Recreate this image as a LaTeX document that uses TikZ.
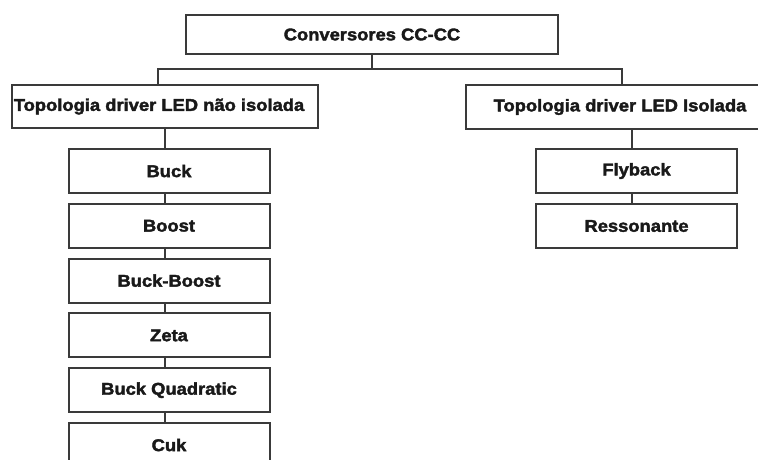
\documentclass[tikz,border=0pt]{standalone}
\usepackage{fontspec}
\newfontfamily\heavy[FakeBold=2.2,FakeStretch=1.08]{Liberation Sans}
\definecolor{linegray}{HTML}{3A3A3A}
\begin{document}
\begin{tikzpicture}[x=1pt,y=-1pt,
  box/.style={draw=linegray,line width=2pt,fill=white,inner sep=0pt,
    font=\heavy\bfseries\fontsize{17}{20}\selectfont,text=black!90},
  conn/.style={draw=linegray,line width=2pt}]
\useasboundingbox (0,0) rectangle (758,459);
\clip (0,0) rectangle (758,459);
\fill[white] (0,0) rectangle (758,459);
\node[box,minimum width=372pt,minimum height=39pt] (top) at (372,34.5) {Conversores CC-CC};
\node[box,minimum width=306pt,minimum height=43pt] (L) at (165,106.5) {};
\node[font=\heavy\bfseries\fontsize{17}{20}\selectfont,text=black!90] (Lt) at (159,106.5) {Topologia driver LED não isolada};
\node[box,minimum width=308pt,minimum height=44pt] (R) at (620,107) {Topologia driver LED Isolada};
\coordinate (bus) at (372,69);
\draw[conn] (top.south) -- (bus);
\draw[conn] ([xshift=-7pt]L.north) |- (bus);
\draw[conn] ([xshift=2pt]R.north) |- (bus);
\foreach \n/\t/\y in {c1/Buck/171, c2/Boost/225.8, c3/Buck-Boost/280.6, c4/Zeta/335.4, c5/Buck Quadratic/390.2, c6/Cuk/445}
  \node[box,minimum width=201pt,minimum height=44pt] (\n) at (169,\y) {\t};
\foreach \a/\b in {c1/c2,c2/c3,c3/c4,c4/c5,c5/c6}
  \draw[conn] (\a.south -| L.south) -- (\b.north -| L.south);
\draw[conn] (L.south) -- (L.south |- c1.north);
\node[box,minimum width=201pt,minimum height=44pt] (f1) at (636.5,171) {Flyback};
\node[box,minimum width=201pt,minimum height=44pt] (f2) at (636.5,226) {Ressonante};
\coordinate (rx) at (632,0);
\draw[conn] (R.south -| rx) -- (f1.north -| rx);
\draw[conn] (f1.south -| rx) -- (f2.north -| rx);
\end{tikzpicture}
\end{document}
